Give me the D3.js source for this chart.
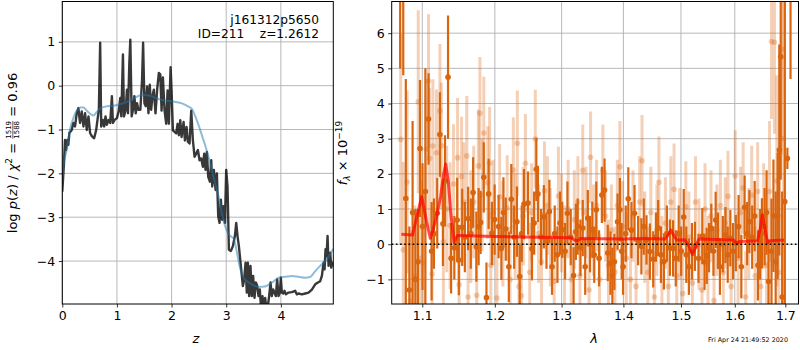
<!DOCTYPE html>
<html>
<head>
<meta charset="utf-8">
<script src="https://cdn.jsdelivr.net/npm/d3@7"></script>
<style>
  body { margin: 0; background: #fff; }
  text { font-family: "DejaVu Sans", sans-serif; }
</style>
</head>
<body>
<svg id="chart" width="800" height="350"></svg>
<script>
const width = 800
const height = 350

// ---- left panel: log p(z) ----
const zRange = [0, 4.96]
const pzRange = [-4.98, 1.92]
const zTicks = [0, 1, 2, 3, 4]
const pzTicks = [-4, -3, -2, -1, 0, 1]

// noisy chi2-based curve [z, log p]
const pzCurve = [
  [0.000,-2.42],[0.031,-1.77],[0.049,-1.24],[0.067,-1.47],[0.092,-1.24],[0.110,-1.35],[0.129,-1.08],
  [0.172,-1.01],[0.202,-0.85],[0.233,-0.93],[0.264,-0.63],[0.294,-0.51],[0.325,-0.85],[0.356,-0.59],
  [0.387,-0.93],[0.417,-0.63],[0.448,-1.01],[0.479,-0.70],[0.509,-1.08],[0.540,-1.15],[0.583,-1.20],
  [0.620,-1.01],[0.644,-0.78],[0.669,-0.55],[0.693,0.98],[0.712,-0.93],[0.742,-0.78],[0.767,-0.93],
  [0.791,-0.70],[0.816,-0.89],[0.847,-0.78],[0.877,-0.85],[0.908,-0.24],[0.926,-0.85],[0.957,-0.78],
  [1.000,-0.74],[1.031,-0.59],[1.061,-0.28],[1.080,-0.70],[1.110,0.71],[1.129,-0.70],[1.160,-0.55],
  [1.184,-0.09],[1.202,-0.63],[1.227,0.52],[1.245,1.05],[1.270,-0.70],[1.294,-0.55],[1.319,-0.24],
  [1.344,-0.63],[1.368,-0.40],[1.393,-0.55],[1.429,-0.55],[1.460,0.14],[1.479,0.98],[1.503,-0.40],
  [1.528,-0.47],[1.552,-0.02],[1.577,-0.63],[1.601,0.02],[1.626,-0.55],[1.650,-0.24],[1.675,-0.09],
  [1.706,-0.63],[1.736,-0.09],[1.767,0.29],[1.793,0.26],[1.817,-0.57],[1.841,0.19],[1.872,-0.57],
  [1.902,-0.87],[1.927,-0.11],[1.951,-0.87],[1.982,0.42],[2.000,-0.11],[2.024,-1.02],[2.061,-1.06],
  [2.085,-1.09],[2.110,-0.87],[2.134,-1.13],[2.159,-0.79],[2.183,-1.17],[2.220,-0.83],[2.244,-1.25],
  [2.274,-0.94],[2.299,-1.28],[2.329,-1.32],[2.360,-0.57],[2.390,-1.25],[2.421,-1.62],[2.451,-1.55],
  [2.482,-1.47],[2.512,-1.70],[2.543,-1.66],[2.573,-1.85],[2.598,-1.55],[2.622,-1.92],[2.646,-1.51],
  [2.671,-2.08],[2.701,-2.19],[2.726,-1.70],[2.744,-2.30],[2.774,-1.92],[2.805,-2.38],[2.829,-2.00],
  [2.854,-2.98],[2.878,-3.13],[2.902,-2.60],[2.927,-3.06],[2.951,-2.75],[2.976,-3.13],[3.000,-1.92],
  [3.024,-2.30],[3.049,-3.74],[3.085,-3.77],[3.122,-3.66],[3.159,-3.43],[3.183,-3.13],[3.207,-3.43],
  [3.232,-3.66],[3.256,-3.96],[3.280,-4.26],[3.305,-4.57],[3.329,-4.42],[3.354,-4.04],[3.377,-4.72],
  [3.396,-4.04],[3.420,-4.80],[3.444,-4.11],[3.469,-4.80],[3.493,-4.34],[3.518,-4.84],[3.542,-4.49],
  [3.567,-4.56],[3.591,-4.80],[3.615,-4.65],[3.640,-5.10],[3.664,-4.80],[3.689,-5.15],[3.713,-4.84],
  [3.737,-5.10],[3.762,-5.02],[3.786,-4.80],[3.811,-4.49],[3.835,-4.80],[3.860,-4.65],[3.884,-4.72],
  [3.908,-4.80],[3.933,-4.42],[3.957,-4.80],[3.982,-4.72],[4.000,-4.38],[4.018,-4.72],[4.043,-4.74],
  [4.067,-4.68],[4.092,-4.76],[4.140,-4.72],[4.201,-4.71],[4.262,-4.68],[4.293,-4.76],[4.324,-4.74],
  [4.385,-4.76],[4.446,-4.74],[4.507,-4.72],[4.568,-4.65],[4.629,-4.53],[4.678,-4.49],[4.720,-4.46],
  [4.751,-4.34],[4.781,-4.04],[4.800,-4.19],[4.818,-3.73],[4.836,-3.89],[4.855,-3.43],[4.873,-4.11],
  [4.904,-3.81],[4.922,-4.15],[4.946,-4.04],[4.965,-4.11]
]

// smooth prior/template curve [z, log p]
const pzSmooth = [
  [0.000,-2.10],[0.018,-1.85],[0.080,-1.47],[0.141,-1.00],[0.202,-0.74],[0.264,-0.57],[0.325,-0.50],
  [0.387,-0.50],[0.448,-0.57],[0.509,-0.64],[0.570,-0.68],[0.632,-0.60],[0.693,-0.52],[0.816,-0.47],
  [0.939,-0.46],[1.061,-0.42],[1.184,-0.37],[1.307,-0.29],[1.429,-0.22],[1.480,-0.21],[1.610,-0.23],
  [1.730,-0.29],[1.830,-0.33],[1.950,-0.35],[2.070,-0.37],[2.200,-0.41],[2.300,-0.47],[2.370,-0.53],
  [2.440,-0.72],[2.500,-0.92],[2.560,-1.15],[2.620,-1.38],[2.680,-1.64],[2.740,-1.94],[2.800,-2.24],
  [2.870,-2.58],[2.930,-2.96],[2.990,-3.24],[3.050,-3.40],[3.100,-3.45],[3.140,-3.50],[3.180,-3.70],
  [3.220,-3.96],[3.260,-4.19],[3.300,-4.34],[3.370,-4.45],[3.470,-4.53],[3.590,-4.59],[3.710,-4.58],
  [3.840,-4.49],[3.960,-4.38],[4.080,-4.36],[4.200,-4.34],[4.330,-4.36],[4.450,-4.38],[4.540,-4.36],
  [4.630,-4.23],[4.720,-4.11],[4.810,-4.00],[4.900,-3.85],[4.960,-3.72]
]

// ---- right panel: spectrum ----
const waveRange = [1.0604, 1.727]
const fluxRange = [-1.70, 6.9]
const waveTicks = [1.1, 1.2, 1.3, 1.4, 1.5, 1.6, 1.7]
const fluxTicks = [-1, 0, 1, 2, 3, 4, 5, 6]

// [wavelength (um), flux, error] - first beam (solid)
const beamA = [
  [1.0712,9.5,4.5],[1.0752,10.0,5.2],[1.0785,1.3,3.4],[1.0831,-1.3,1.8],[1.0873,0.9,2.6],[1.0910,-1.0,2.0],
  [1.0943,-0.5,1.5],[1.0970,2.72,1.95],[1.1003,0.5,1.8],[1.1041,1.5,3.5],[1.1083,3.56,1.3],[1.1124,-0.2,1.4],
  [1.1155,0.3,1.0],[1.1199,0.88,1.0],[1.1235,3.12,1.2],[1.1276,0.58,1.2],[1.1304,1.80,1.3],[1.1345,4.75,1.75],
  [1.1387,-0.4,1.0],[1.1431,-0.1,0.9],[1.1470,0.69,1.2],[1.1493,-0.45,1.0],[1.1539,0.48,1.1],[1.1576,0.2,1.0],
  [1.1621,0.73,0.9],[1.1659,0.3,1.0],[1.1691,1.47,1.0],[1.1737,-0.07,1.0],[1.1769,0.5,1.1],[1.1797,0.62,0.9],
  [1.1842,1.90,1.0],[1.1880,-1.52,1.0],[1.1911,1.43,1.0],[1.1958,0.31,0.9],[1.1997,0.7,1.0],[1.2054,0.50,0.9],
  [1.2094,-0.12,0.9],[1.2124,0.9,1.0],[1.2158,0.43,0.9],[1.2203,-0.64,1.0],[1.2239,1.28,1.0],[1.2281,0.2,0.9],
  [1.2322,0.64,1.0],[1.2363,-0.92,0.9],[1.2393,0.3,0.8],[1.2427,1.14,1.0],[1.2487,1.17,0.9],[1.2546,-0.13,0.9],
  [1.2579,0.6,0.9],[1.2612,2.13,0.9],[1.2636,1.43,0.8],[1.2684,0.2,0.8],[1.2726,0.78,0.9],[1.2766,0.1,0.8],
  [1.2811,0.93,0.9],[1.2851,-0.64,0.8],[1.2893,0.3,0.8],[1.2935,-0.30,0.8],[1.2975,0.6,0.9],[1.3010,0.41,0.8],
  [1.3054,-0.2,0.8],[1.3091,0.88,0.9],[1.3143,0.2,0.8],[1.3188,-0.89,0.8],[1.3224,0.35,0.8],[1.3253,0.50,0.8],
  [1.3297,-0.1,0.8],[1.3334,0.46,0.8],[1.3373,-0.64,0.8],[1.3415,0.74,0.8],[1.3451,0.0,0.8],[1.3487,0.41,0.8],
  [1.3519,-0.3,0.8],[1.3552,0.98,0.8],[1.3597,-0.4,0.8],[1.3643,1.40,0.8],[1.3687,1.54,0.9],[1.3740,-0.25,0.8],
  [1.3784,-0.54,0.9],[1.3816,-0.9,0.8],[1.3849,-0.50,0.8],[1.3902,0.64,0.8],[1.3941,0.98,0.9],[1.3971,-0.2,0.8],
  [1.3995,-0.64,0.8],[1.4039,0.3,0.8],[1.4082,1.29,0.9],[1.4135,0.4,0.8],[1.4188,0.88,0.8],[1.4249,0.1,0.7],
  [1.4305,-0.06,0.8],[1.4346,0.5,0.8],[1.4393,0.12,0.7],[1.4451,-0.21,0.8],[1.4509,-0.43,0.8],[1.4556,0.2,0.7],
  [1.4596,0.46,0.8],[1.4644,-0.3,0.8],[1.4696,-0.49,0.8],[1.4749,0.3,0.8],[1.4802,-0.1,0.8],[1.4859,-0.12,0.8],
  [1.4907,-0.4,0.8],[1.4959,0.3,0.8],[1.5004,-0.2,0.7],[1.5050,0.77,0.8],[1.5096,-0.3,0.8],[1.5143,-0.64,0.8],
  [1.5198,-0.2,0.8],[1.5254,-0.06,0.7],[1.5319,-0.4,0.7],[1.5389,0.23,0.8],[1.5430,-0.5,0.8],[1.5470,-0.33,0.8],
  [1.5513,-0.1,0.7],[1.5556,0.45,0.7],[1.5596,-0.2,0.7],[1.5637,0.69,0.8],[1.5680,0.1,0.8],[1.5717,-0.64,0.8],
  [1.5772,0.0,0.8],[1.5822,0.26,0.8],[1.5865,-0.3,0.8],[1.5915,0.17,0.8],[1.5967,-0.2,0.8],[1.6020,0.03,0.8],
  [1.6073,0.5,0.9],[1.6126,-0.64,0.9],[1.6190,1.05,0.9],[1.6239,0.3,0.9],[1.6282,0.64,0.9],[1.6337,0.2,0.9],
  [1.6386,0.80,1.0],[1.6451,-0.60,1.0],[1.6494,0.0,1.0],[1.6529,0.31,1.0],[1.6582,0.5,1.1],[1.6622,0.9,1.2],
  [1.6661,-1.06,1.2],[1.6720,-0.2,1.5],[1.6759,0.81,1.6],[1.6804,-0.5,2.0],[1.6843,0.81,1.8],[1.6877,2.68,3.0],
  [1.6906,5.33,3.5],[1.6935,-1.5,3.0],[1.6988,1.21,8.0],[1.7041,2.44,0.3],[1.7106,8.0,3.3]
]

// second beam (faint)
const beamB = [
  [1.0719,2.98,3.0],[1.0752,-0.16,2.5],[1.0802,1.77,2.6],[1.0844,-1.6,2.0],[1.0904,-0.9,2.0],[1.0947,4.05,2.6],
  [1.0976,-0.4,2.2],[1.1014,-0.53,2.0],[1.1051,2.7,2.0],[1.1083,4.64,1.9],[1.1097,2.44,2.0],[1.1130,-0.85,1.9],
  [1.1141,2.79,1.9],[1.1189,2.60,1.8],[1.1235,3.79,1.9],[1.1254,2.80,1.8],[1.1282,0.07,1.8],[1.1327,1.0,1.8],
  [1.1373,0.53,1.8],[1.1420,1.71,1.7],[1.1475,2.46,1.7],[1.1497,-1.15,1.6],[1.1530,1.92,1.7],[1.1562,1.2,1.7],
  [1.1603,2.51,1.7],[1.1621,-1.5,1.6],[1.1659,0.5,1.6],[1.1700,1.2,1.6],[1.1742,-1.45,1.6],[1.1765,2.23,1.6],
  [1.1787,3.72,1.6],[1.1818,1.4,1.6],[1.1842,3.16,1.6],[1.1898,1.75,1.6],[1.1925,2.30,1.6],[1.1942,-0.6,1.5],
  [1.1976,0.9,1.5],[1.2030,-1.53,1.5],[1.2069,1.35,1.5],[1.2116,0.3,1.5],[1.2179,1.03,1.5],[1.2221,-1.0,1.5],
  [1.2269,2.11,1.5],[1.2296,0.5,1.5],[1.2328,2.87,1.5],[1.2352,-1.2,1.5],[1.2388,-1.47,1.5],[1.2415,0.8,1.4],
  [1.2448,2.30,1.4],[1.2512,-0.8,1.4],[1.2542,0.9,1.4],[1.2597,2.99,1.4],[1.2646,0.3,1.4],[1.2691,-0.5,1.4],
  [1.2736,1.52,1.4],[1.2781,1.1,1.4],[1.2826,0.2,1.4],[1.2885,-1.05,1.4],[1.2950,1.37,1.4],[1.2997,0.6,1.4],
  [1.3045,-0.3,1.4],[1.3102,1.0,1.4],[1.3151,-1.0,1.4],[1.3200,0.7,1.4],[1.3256,1.2,1.3],[1.3289,-0.9,1.3],
  [1.3334,2.10,1.3],[1.3386,0.9,1.3],[1.3435,-1.3,1.3],[1.3459,2.47,1.3],[1.3508,0.4,1.3],[1.3557,1.1,1.3],
  [1.3605,-1.0,1.3],[1.3659,2.10,1.3],[1.3703,0.8,1.3],[1.3751,-0.6,1.3],[1.3800,0.4,1.3],[1.3857,-0.8,1.3],
  [1.3898,1.1,1.3],[1.3941,2.20,1.3],[1.3987,0.5,1.3],[1.4047,-0.4,1.3],[1.4118,-1.0,1.3],[1.4161,0.8,1.3],
  [1.4214,-1.2,1.3],[1.4275,1.20,1.3],[1.4316,2.37,1.3],[1.4363,0.2,1.3],[1.4416,-0.8,1.3],[1.4468,0.9,1.3],
  [1.4530,-1.5,1.3],[1.4574,0.4,1.3],[1.4609,1.76,1.3],[1.4661,-0.5,1.3],[1.4723,0.6,1.3],[1.4775,-1.2,1.3],
  [1.4819,1.2,1.3],[1.4877,1.56,1.3],[1.4924,-0.9,1.3],[1.4977,0.3,1.3],[1.5031,-1.4,1.3],[1.5087,1.06,1.3],
  [1.5143,0.2,1.3],[1.5207,-1.1,1.3],[1.5263,1.2,1.3],[1.5328,0.0,1.3],[1.5383,-1.3,1.3],[1.5439,1.0,1.3],
  [1.5494,-0.5,1.3],[1.5550,0.8,1.3],[1.5606,-1.6,1.3],[1.5661,0.4,1.3],[1.5726,1.1,1.3],[1.5782,-0.8,1.3],
  [1.5819,0.6,1.3],[1.5870,1.36,1.3],[1.5930,-1.2,1.3],[1.6008,1.94,1.3],[1.6063,-0.4,1.3],[1.6112,0.9,1.3],
  [1.6161,1.6,1.3],[1.6210,-1.5,1.3],[1.6269,0.3,1.3],[1.6327,1.4,1.4],[1.6396,-0.9,1.4],[1.6445,1.5,1.4],
  [1.6504,-1.2,1.5],[1.6563,0.8,1.5],[1.6622,-0.6,1.6],[1.6680,1.5,2.0],[1.6720,5.76,2.2],[1.6779,5.74,2.6],
  [1.6828,1.8,3.0],[1.6867,-0.8,3.5],[1.6922,5.55,3.0],[1.6965,3.0,5.0]
]

// best-fit model [wavelength, flux]
const model = [
  [1.0728,0.28],[1.0873,0.26],[1.0930,0.80],[1.0992,1.35],[1.1051,0.70],[1.1106,0.17],[1.1148,0.45],
  [1.1199,0.88],[1.1244,1.35],[1.1286,2.00],[1.1313,2.28],[1.1348,1.80],[1.1382,0.90],[1.1428,0.05],
  [1.1475,0.25],[1.2000,0.22],[1.2676,0.20],[1.3151,0.18],[1.3200,0.12],[1.3248,0.10],[1.3297,0.16],
  [1.4000,0.15],[1.4293,0.16],[1.4714,0.15],[1.4766,0.25],[1.4819,0.40],[1.4871,0.25],[1.4924,0.12],
  [1.5069,0.13],[1.5143,-0.05],[1.5211,-0.30],[1.5272,-0.05],[1.5328,0.15],[1.5976,0.12],[1.6033,0.02],
  [1.6092,0.08],[1.6445,0.10],[1.6504,0.50],[1.6537,0.83],[1.6582,0.50],[1.6641,0.05],[1.6700,0.10],
  [1.6975,0.12]
]

const specColor = "#d9650f"

const svg = d3.select("#chart")
svg.append("rect").attr("width", width).attr("height", height).attr("fill", "#fff")

const leftBox = {x0: 62.3, x1: 333.3, y0: 1.5, y1: 304}
const rightBox = {x0: 391.7, x1: 798.5, y0: 1.5, y1: 304}

const zScale = d3.scaleLinear().domain(zRange).range([leftBox.x0, leftBox.x1])
const pzScale = d3.scaleLinear().domain(pzRange).range([leftBox.y1, leftBox.y0])
const waveScale = d3.scaleLog().domain(waveRange).range([rightBox.x0, rightBox.x1])
const fluxScale = d3.scaleLinear().domain(fluxRange).range([rightBox.y1, rightBox.y0])

const defs = svg.append("defs")
function clip(id, b) {
  defs.append("clipPath").attr("id", id).append("rect")
    .attr("x", b.x0).attr("y", b.y0).attr("width", b.x1 - b.x0).attr("height", b.y1 - b.y0)
}
clip("clipL", leftBox)
clip("clipR", rightBox)

function drawGrid(b, xs, ys, xScale, yScale) {
  const g = svg.append("g").attr("stroke", "#b0b0b0").attr("stroke-width", 0.9)
  xs.forEach(v => g.append("line").attr("x1", xScale(v)).attr("x2", xScale(v)).attr("y1", b.y0).attr("y2", b.y1))
  ys.forEach(v => g.append("line").attr("y1", yScale(v)).attr("y2", yScale(v)).attr("x1", b.x0).attr("x2", b.x1))
}

function styleAxis(g) {
  g.attr("font-family", "DejaVu Sans").attr("font-size", 12.5)
  g.select(".domain").remove()
  g.selectAll(".tick line").attr("stroke", "#000").attr("stroke-width", 0.8)
  g.selectAll(".tick text").attr("fill", "#000")
}

function drawAxes(b, xScale, yScale, xs, ys, xFmt, yFmt) {
  svg.append("g").attr("transform", `translate(0,${b.y1})`)
    .call(d3.axisBottom(xScale).tickValues(xs).tickFormat(xFmt).tickSize(3.5).tickPadding(3.5))
    .call(styleAxis)
  svg.append("g").attr("transform", `translate(${b.x0},0)`)
    .call(d3.axisLeft(yScale).tickValues(ys).tickFormat(yFmt).tickSize(3.5).tickPadding(3.5))
    .call(styleAxis)
  svg.append("rect").attr("x", b.x0).attr("y", b.y0).attr("width", b.x1 - b.x0).attr("height", b.y1 - b.y0)
    .attr("fill", "none").attr("stroke", "#000").attr("stroke-width", 1)
}

// ---- left panel ----
drawGrid(leftBox, zTicks, pzTicks, zScale, pzScale)

const pzLine = d3.line().x(d => zScale(d[0])).y(d => pzScale(d[1]))
const gL = svg.append("g").attr("clip-path", "url(#clipL)")
gL.append("path").datum(pzCurve).attr("d", pzLine)
  .attr("fill", "none").attr("stroke", "#000").attr("stroke-opacity", 0.78)
  .attr("stroke-width", 2.4).attr("stroke-linejoin", "round")
gL.append("path").datum(pzSmooth).attr("d", pzLine.curve(d3.curveMonotoneX))
  .attr("fill", "none").attr("stroke", "#1f77b4").attr("stroke-opacity", 0.5).attr("stroke-width", 2)

drawAxes(leftBox, zScale, pzScale, zTicks, pzTicks, d3.format("d"), d3.format("d"))

svg.append("text").attr("x", 319).attr("y", 23.5).attr("text-anchor", "end")
  .attr("font-size", 12.2).text("j161312p5650")
svg.append("text").attr("x", 319).attr("y", 38).attr("text-anchor", "end")
  .attr("font-size", 12.2).style("white-space", "pre").text("ID=211    z=1.2612")

svg.append("text").attr("x", 196).attr("y", 343).attr("text-anchor", "middle")
  .attr("font-size", 13).attr("font-style", "italic").text("z")

// y label with a stacked fraction, laid out piece by piece
const labL = svg.append("g").attr("transform", "translate(17,153) rotate(-90)")
const partsL = labL.append("g")
let cx = 0
function put(g, txt, size, opt = {}) {
  const t = g.append("text").attr("x", cx).attr("y", opt.y || 0).attr("font-size", size)
    .style("white-space", "pre").text(txt)
  if (opt.italic) t.attr("font-style", "italic")
  const w = t.node().getComputedTextLength()
  if (!opt.hold) cx += w
  return w
}
put(partsL, "log ", 13)
put(partsL, "p", 13, {italic: true})
put(partsL, "(", 13)
put(partsL, "z", 13, {italic: true})
put(partsL, ") / ", 13)
put(partsL, "χ", 13, {italic: true})
put(partsL, "2", 9, {y: -5.5})
put(partsL, " = ", 13)
const fx = cx
const wn = put(partsL, "1519", 7, {y: -5.6, hold: true})
const wd = put(partsL, "1588", 7, {y: 1.6, hold: true})
const wf = Math.max(wn, wd)
partsL.append("line").attr("x1", fx).attr("x2", fx + wf).attr("y1", -4.2).attr("y2", -4.2)
  .attr("stroke", "#000").attr("stroke-width", 0.6)
cx += wf
put(partsL, " = 0.96", 13)
partsL.attr("transform", `translate(${-cx / 2},0)`)

// ---- right panel ----
drawGrid(rightBox, waveTicks, fluxTicks, waveScale, fluxScale)

const gR = svg.append("g").attr("clip-path", "url(#clipR)")

function drawBeam(data, opacity, barWidth) {
  const g = gR.append("g")
  data.forEach(d => {
    g.append("line")
      .attr("x1", waveScale(d[0])).attr("x2", waveScale(d[0]))
      .attr("y1", fluxScale(d[1] - d[2])).attr("y2", fluxScale(d[1] + d[2]))
      .attr("stroke", specColor).attr("stroke-width", barWidth).attr("stroke-opacity", opacity)
  })
  data.forEach(d => {
    g.append("circle").attr("cx", waveScale(d[0])).attr("cy", fluxScale(d[1])).attr("r", 2.8)
      .attr("fill", specColor).attr("fill-opacity", opacity)
  })
}
drawBeam(beamB, 0.3, 3)
drawBeam(beamA, 1, 2.2)

const modelLine = d3.line().x(d => waveScale(d[0])).y(d => fluxScale(d[1]))
gR.append("path").datum(model).attr("d", modelLine)
  .attr("fill", "none").attr("stroke", "red").attr("stroke-opacity", 0.7)
  .attr("stroke-width", 3).attr("stroke-linejoin", "round")

gR.append("line").attr("x1", rightBox.x0).attr("x2", rightBox.x1)
  .attr("y1", fluxScale(0)).attr("y2", fluxScale(0))
  .attr("stroke", "#000").attr("stroke-width", 1.6).attr("stroke-dasharray", "1.6,2.6")

drawAxes(rightBox, waveScale, fluxScale, waveTicks, fluxTicks, d3.format(".1f"), d3.format("d"))

svg.append("text").attr("x", 594).attr("y", 343).attr("text-anchor", "middle")
  .attr("font-size", 13).attr("font-style", "italic").text("λ")

const labR = svg.append("g").attr("transform", "translate(347,153) rotate(-90)")
const partsR = labR.append("g")
cx = 0
put(partsR, "f", 13, {italic: true})
put(partsR, "λ", 9, {italic: true, y: 3})
put(partsR, " × 10", 13)
put(partsR, "−19", 9, {y: -5.5})
partsR.attr("transform", `translate(${-cx / 2},0)`)

svg.append("text").attr("x", 788).attr("y", 342).attr("text-anchor", "end")
  .attr("font-size", 6.4).text("Fri Apr 24 21:49:52 2020")
</script>
</body>
</html>
